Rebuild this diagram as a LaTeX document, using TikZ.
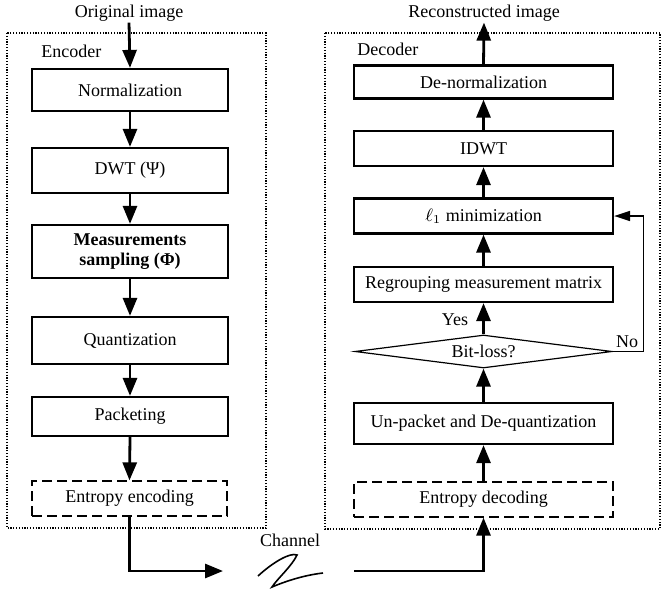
\documentclass[tikz,border=0pt]{standalone}
\usepackage{fontspec}
\setmainfont{Liberation Serif}
\usetikzlibrary{arrows.meta,shapes.geometric}
\begin{document}
\begin{tikzpicture}[x=0.5pt,y=-0.5pt,font=\fontsize{9}{10}\selectfont,
	blockbox/.style={draw,line width=1.1pt,minimum width=98pt,inner sep=0pt},
	rblockbox/.style={draw,line width=1.1pt,minimum width=129.5pt,inner sep=0pt},
	dashbox/.style={draw,line width=0.6pt,dash pattern=on 5pt off 2.5pt,inner sep=0pt},
	flow/.style={line width=1.4pt,-{Triangle[length=9pt,width=7pt]}},
	feedback/.style={line width=0.8pt,-{Triangle[length=8pt,width=5pt]}},
	frame/.style={line width=0.6pt,dash pattern=on 0.6pt off 0.8pt},
	tag/.style={inner sep=0.5pt}]
	\useasboundingbox (0,0) rectangle (662,589);

	%frames
	\draw[frame] (7,33) rectangle (266,528); %encoder frame
	\draw[frame] (325,33) rectangle (660,529); %decoder frame
	\node[tag,anchor=west] (enc) at (40,51) {Encoder};
	\node[tag,anchor=west] (dec) at (356,49) {Decoder};

	%encoder blocks
	\node[tag] (orig) at (129,13) {Original image};
	\node[blockbox,minimum height=21pt] (norm) at (130,90) {Normalization};
	\node[blockbox,minimum height=22.5pt] (dwt) at (130,170.5) {DWT (Ψ)};
	\node[blockbox,minimum height=26.5pt,align=center,font=\fontsize{9}{10}\selectfont\bfseries] (meas) at (130,251.5) {Measurements\\sampling (Φ)};
	\node[blockbox,minimum height=23.5pt] (quant) at (130,340.5) {Quantization};
	\node[blockbox,minimum height=19.5pt] (pack) at (130,416.5) {Packeting};
	\node[dashbox,minimum width=97.5pt,minimum height=17.5pt] (entenc) at (129.5,498.5) {Entropy encoding};

	%decoder blocks
	\node[tag] (recon) at (484,13) {Reconstructed image};
	\node[rblockbox,minimum height=16.5pt] (denorm) at (483.5,82) {De-normalization};
	\node[rblockbox,minimum height=17.5pt] (idwt) at (483.5,148.5) {IDWT};
	\node[rblockbox,minimum height=17.5pt] (lmin) at (483.5,216) {$\ell_1$ minimization};
	\node[rblockbox,minimum height=17.5pt] (regroup) at (483.5,284.5) {Regrouping measurement matrix};
	\node[diamond,draw,line width=0.6pt,aspect=7.8,minimum width=128.5pt,minimum height=16.5pt,inner sep=0pt] (bitloss) at (483.5,351.5) {Bit-loss?};
	\node[rblockbox,minimum height=20.5pt] (unpack) at (483.5,423.5) {Un-packet and De-quantization};
	\node[dashbox,minimum width=129.5pt,minimum height=17.5pt] (entdec) at (483.5,499.5) {Entropy decoding};

	%encoder flow
	\draw[flow] (orig.south) -- (norm.north);
	\foreach \a/\b in {norm/dwt,dwt/meas,meas/quant,quant/pack,pack/entenc}
	  \draw[flow] (\a.south) -- (\b.north);

	%decoder flow
	\foreach \a/\b in {entdec/unpack,unpack/bitloss,bitloss/regroup,regroup/lmin,lmin/idwt,idwt/denorm}
	  \draw[flow] (\a.north) -- (\b.south);
	\draw[flow] (denorm.north) -- (recon.south);
	\node[tag] (yes) at (455,320) {Yes};
	\node[tag] (no) at (627,342) {No};
	\draw[feedback] (bitloss.east) -- ++(31,0) |- (lmin.east); %no-loss loop

	%channel
	\coordinate (chanin) at (223,571);
	\coordinate (chanout) at (354,571);
	\draw[flow] (entenc.south) |- (chanin);
	\draw[line width=1.4pt,-{Triangle[length=9pt,width=7pt]}] (chanout) -| (entdec.south);
	\node[tag] (chan) at (290,540) {Channel};
	\draw[line width=0.8pt] (258,576) .. controls (272,563) and (290,552) .. (297,555)
	  .. controls (292,566) and (277,579) .. (272,587)
	  .. controls (286,581) and (305,575) .. (323,573); %channel squiggle
\end{tikzpicture}
\end{document}
